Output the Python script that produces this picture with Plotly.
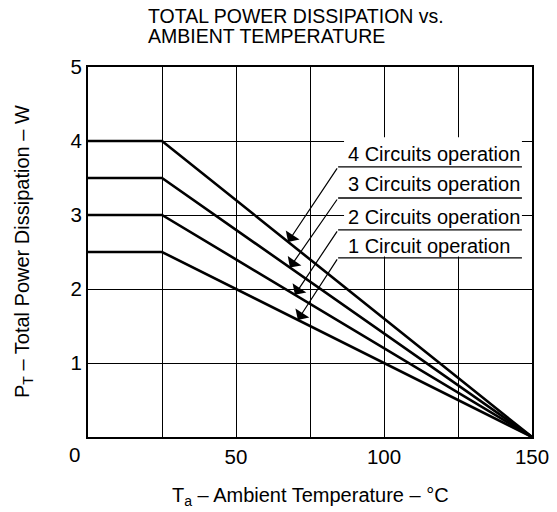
import plotly.graph_objects as go

# ---- data ----
temps = [0, 25, 150]
p_4circ = [4.0, 4.0, 0.0]
p_3circ = [3.5, 3.5, 0.0]
p_2circ = [3.0, 3.0, 0.0]
p_1circ = [2.5, 2.5, 0.0]

series_names = ["4 Circuits operation", "3 Circuits operation",
                "2 Circuits operation", "1 Circuit operation"]
series_values = [p_4circ, p_3circ, p_2circ, p_1circ]

# label leader geometry (data coordinates)
arrow_tip_x = [67.6, 68.2, 69.9, 70.9]
underline_y = [3.65, 3.23, 2.80, 2.42]
text_y = [3.83, 3.42, 2.97, 2.58]
leader_x = 84.5
underline_end_x = 146.6
text_x = 87.0

x_ticks = [0, 25, 50, 75, 100, 125, 150]
x_ticktext = ["", "", "50", "", "100", "", "150"]
y_ticks = [0, 1, 2, 3, 4, 5]
y_ticktext = ["", "1", "2", "3", "4", "5"]

FONT = "Liberation Sans, Arial, sans-serif"

fig = go.Figure()
for name, vals in zip(series_names, series_values):
    fig.add_trace(go.Scatter(x=temps, y=vals, mode="lines", name=name,
                             line=dict(color="black", width=2.6),
                             showlegend=False, hoverinfo="skip"))

shapes = []
# white backdrop for the label block (hides gridlines)
shapes.append(dict(type="rect", xref="x", yref="y", x0=text_x - 0.5, x1=underline_end_x,
                   y0=underline_y[-1] + 0.02, y1=4.05, fillcolor="white",
                   line=dict(width=0), layer="between"))
annotations = []
for name, vals, tx, uy, ty in zip(series_names, series_values, arrow_tip_x, underline_y, text_y):
    shapes.append(dict(type="line", xref="x", yref="y", x0=leader_x, x1=underline_end_x,
                       y0=uy, y1=uy, line=dict(color="black", width=1.3), layer="above"))
    tip_y = vals[0] * (temps[-1] - tx) / (temps[-1] - temps[1])
    annotations.append(dict(x=tx, y=tip_y, ax=leader_x, ay=uy, xref="x", yref="y",
                            axref="x", ayref="y", text="", showarrow=True,
                            arrowhead=1, arrowsize=2.3, arrowwidth=1.2, arrowcolor="black"))
    annotations.append(dict(x=text_x, y=ty, xref="x", yref="y", text=name,
                            showarrow=False, xanchor="left", yanchor="middle",
                            font=dict(family=FONT, size=20, color="black")))

# corner "0" label
annotations.append(dict(x=0, y=0, xref="x", yref="y", text="0", showarrow=False,
                        xanchor="center", yanchor="middle", xshift=-14, yshift=-17,
                        font=dict(family=FONT, size=20.5, color="black")))
# title (two tight lines)
annotations.append(dict(x=0, y=1, xref="paper", yref="paper", xanchor="left", yanchor="middle",
                        xshift=58, yshift=51, showarrow=False,
                        text="TOTAL POWER DISSIPATION vs.",
                        font=dict(family=FONT, size=19.5, color="black")))
annotations.append(dict(x=0, y=1, xref="paper", yref="paper", xanchor="left", yanchor="middle",
                        xshift=58, yshift=31, showarrow=False,
                        text="AMBIENT TEMPERATURE",
                        font=dict(family=FONT, size=19.5, color="black")))
# axis titles
annotations.append(dict(x=0.5, y=0, xref="paper", yref="paper", xanchor="center", yanchor="middle",
                        yshift=-59, showarrow=False,
                        text="T<sub>a</sub> – Ambient Temperature – °C",
                        font=dict(family=FONT, size=20, color="black")))
annotations.append(dict(x=0, y=0.5, xref="paper", yref="paper", xanchor="center", yanchor="middle",
                        xshift=-65, showarrow=False, textangle=-90,
                        text="P<sub>T</sub> – Total Power Dissipation – W",
                        font=dict(family=FONT, size=20, color="black")))

fig.update_layout(
    width=557, height=512,
    margin=dict(l=88, r=25, t=67, b=75, autoexpand=False),
    paper_bgcolor="white", plot_bgcolor="white",
    shapes=shapes, annotations=annotations,
    font=dict(family=FONT, size=20, color="black"),
)
fig.update_xaxes(range=[0, 150], tickvals=x_ticks, ticktext=x_ticktext,
                 showgrid=True, gridcolor="black", gridwidth=1,
                 showline=True, linecolor="black", linewidth=2, mirror=True,
                 ticks="", zeroline=False, tickfont=dict(size=20.5), automargin=False)
fig.update_yaxes(range=[0, 5], tickvals=y_ticks, ticktext=y_ticktext,
                 showgrid=True, gridcolor="black", gridwidth=1,
                 showline=True, linecolor="black", linewidth=2, mirror=True,
                 ticks="", zeroline=False, tickfont=dict(size=20.5), automargin=False)

fig.write_html("out.html", config={"displayModeBar": False},
               post_script="document.body.style.margin='0';document.body.style.overflow='hidden';")
